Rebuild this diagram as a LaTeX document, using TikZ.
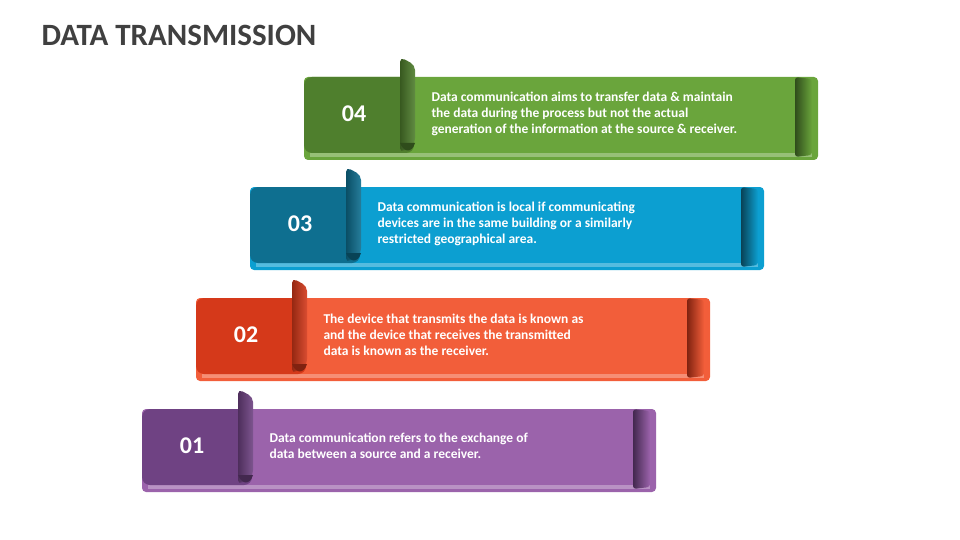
\documentclass[tikz,border=0pt]{standalone}
\usepackage{fontspec}
\setmainfont{Carlito}
\begin{document}
\begin{tikzpicture}[x=1pt,y=-1pt,
  numtxt/.style={font=\bfseries\fontsize{24}{24}\selectfont,text=white},
  bodytxt/.style={font=\bfseries\fontsize{13.5}{16}\selectfont,text=white,align=left,anchor=west}]
\useasboundingbox (0,0) rectangle (960,540);
\node[anchor=west,font=\bfseries\fontsize{31}{31}\selectfont,text=black!75] (title) at (38,35) {DATA TRANSMISSION};
\newcommand\ribbon[7]{%
 \begin{scope}[shift={(#1,#2)}]
  \fill[#3,rounded corners=4] (0,0) rectangle (514,83);
  \fill[#3!70!white] (6,76) rectangle (508,80);
  \fill[#4,rounded corners=8] (0,0) rectangle (110,76);
  \shade[left color=#4!70!black,right color=#4!90!white,rounded corners=5] (96,76) -- (96,-20) -- (111,-12) -- (111,66) -- cycle;
  \fill[#4!60!black] (96,66) .. controls (100,76) and (108,76) .. (111,66) -- cycle;
  \shade[left color=#4!60!black,right color=#3,rounded corners=3] (491,80) -- (491,0) -- (508,2) -- (508,78) -- cycle;
  \node[numtxt] (n#7) at (50,37) {#5};
  \node[bodytxt] (t#7) at (124,37) {#6};
 \end{scope}}
\definecolor{gm}{HTML}{6AA53C}\definecolor{gd}{HTML}{4F7F2D}
\definecolor{bm}{HTML}{0C9FD1}\definecolor{bd}{HTML}{0E6F90}
\definecolor{om}{HTML}{F25E3A}\definecolor{od}{HTML}{D5391A}
\definecolor{pm}{HTML}{9B63AB}\definecolor{pd}{HTML}{6F4283}
\ribbon{304}{77}{gm}{gd}{04}{Data communication aims to transfer data \& maintain\\the data during the process but not the actual\\generation of the information at the source \& receiver.}{d}
\ribbon{250}{187}{bm}{bd}{03}{Data communication is local if communicating\\devices are in the same building or a similarly\\restricted geographical area.}{c}
\ribbon{196}{298}{om}{od}{02}{The device that transmits the data is known as\\and the device that receives the transmitted\\data is known as the receiver.}{b}
\ribbon{142}{409}{pm}{pd}{01}{Data communication refers to the exchange of\\data between a source and a receiver.}{a}
\end{tikzpicture}
\end{document}
